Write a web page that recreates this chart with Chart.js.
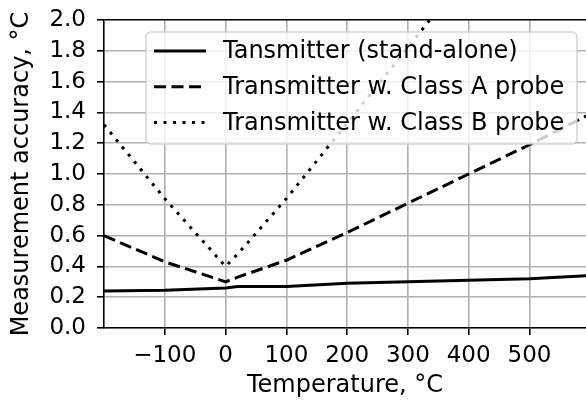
<!DOCTYPE html>
<html lang="en">
<head>
    <meta charset="UTF-8">
    <title>Measurement accuracy</title>
    <style>
        body {
            margin: 0;
            padding: 0;
            background-color: white;
        }
        canvas {
            display: block;
        }
    </style>
</head>
<body>
    <canvas id="chart1" width="586" height="401"></canvas>

    <script src="https://cdn.jsdelivr.net/npm/chart.js"></script>
    <script>
        // data
        var temps = [-200, -100, 0, 20, 100, 200, 300, 400, 500, 600];
        var standAlone = [0.24, 0.245, 0.26, 0.27, 0.27, 0.29, 0.30, 0.31, 0.32, 0.34];
        var classA = [0.60, 0.43, 0.30, 0.33, 0.44, 0.62, 0.81, 1.00, 1.19, 1.39];
        var classB = [1.32, 0.84, 0.40, 0.48, 0.84, 1.33, 1.82, 2.32, 2.82, 3.32];
        var xTicks = [-100, 0, 100, 200, 300, 400, 500];
        var yTicks = [0, 0.2, 0.4, 0.6, 0.8, 1.0, 1.2, 1.4, 1.6, 1.8, 2.0];
        var seriesNames = ['Tansmitter (stand-alone)', 'Transmitter w. Class A probe', 'Transmitter w. Class B probe'];

        function pts(ys) {
            return temps.map(function (t, i) { return { x: t, y: ys[i] }; });
        }

        Chart.defaults.font.family = "'DejaVu Sans', sans-serif";
        Chart.defaults.font.size = 23;
        Chart.defaults.color = '#000';

        // matplotlib style legend box inside the plot
        var boxLegend = {
            id: 'boxLegend',
            afterDatasetsDraw: function (chart) {
                var c = chart.ctx;
                c.save();
                c.beginPath();
                c.roundRect(146, 32, 431, 112, 5);
                c.fillStyle = 'rgba(255,255,255,0.8)';
                c.fill();
                c.strokeStyle = 'rgba(204,204,204,0.8)';
                c.lineWidth = 1.6;
                c.stroke();
                chart.data.datasets.forEach(function (ds, i) {
                    var y = 51 + i * 35.7;
                    c.beginPath();
                    c.setLineDash(ds.borderDash || []);
                    c.lineWidth = ds.borderWidth;
                    c.strokeStyle = ds.borderColor;
                    c.moveTo(154, y);
                    c.lineTo(206, y);
                    c.stroke();
                    c.setLineDash([]);
                    c.fillStyle = '#000';
                    c.font = "24px 'DejaVu Sans', sans-serif";
                    c.textBaseline = 'middle';
                    c.fillText(ds.label, 223, y + 1);
                });
                c.restore();
            }
        };

        var ctx1 = document.getElementById('chart1').getContext('2d');
        var chart1 = new Chart(ctx1, {
            type: 'line',
            data: {
                datasets: [{
                    label: seriesNames[0],
                    data: pts(standAlone),
                    borderColor: '#000',
                    borderWidth: 3,
                    pointRadius: 0
                }, {
                    label: seriesNames[1],
                    data: pts(classA),
                    borderColor: '#000',
                    borderWidth: 3,
                    borderDash: [12, 5.5],
                    pointRadius: 0
                }, {
                    label: seriesNames[2],
                    data: pts(classB),
                    borderColor: '#000',
                    borderWidth: 3,
                    borderDash: [3, 6.5],
                    pointRadius: 0
                }]
            },
            options: {
                responsive: false,
                animation: false,
                layout: { padding: { top: 20, right: 0, left: 0, bottom: 0 } },
                plugins: {
                    legend: { display: false },
                    tooltip: { enabled: false }
                },
                scales: {
                    x: {
                        type: 'linear',
                        min: -200,
                        max: 593,
                        afterBuildTicks: function (scale) {
                            scale.ticks = xTicks.map(function (v) { return { value: v }; });
                        },
                        afterFit: function (scale) {
                            scale.height = 73;
                            scale.paddingLeft = 0;
                            scale.paddingRight = 0;
                        },
                        ticks: {
                            padding: 7,
                            maxRotation: 0,
                            autoSkip: false,
                            callback: function (v) { return v < 0 ? '\u2212' + Math.abs(v) : v; }
                        },
                        grid: {
                            color: '#b0b0b0',
                            lineWidth: 1.6,
                            tickColor: '#000',
                            tickLength: 7,
                            tickWidth: 1.6
                        },
                        border: { color: '#000', width: 1.6 },
                        title: {
                            display: true,
                            text: 'Temperature, \u00b0C',
                            font: { size: 24 },
                            padding: { top: 0, bottom: 1 }
                        }
                    },
                    y: {
                        min: 0,
                        max: 2,
                        afterBuildTicks: function (scale) {
                            scale.ticks = yTicks.map(function (v) { return { value: v }; });
                        },
                        afterFit: function (scale) {
                            scale.width = 104;
                            scale.paddingTop = 0;
                            scale.paddingBottom = 0;
                        },
                        ticks: {
                            padding: 11,
                            autoSkip: false,
                            callback: function (v) { return v.toFixed(1); }
                        },
                        grid: {
                            color: function (c) { return c.tick && c.tick.value === 2 ? '#000' : '#b0b0b0'; },
                            lineWidth: 1.6,
                            tickColor: '#000',
                            tickLength: 7,
                            tickWidth: 1.6
                        },
                        border: { color: '#000', width: 1.6 },
                        title: {
                            display: true,
                            text: 'Measurement accuracy, \u00b0C',
                            font: { size: 24 },
                            padding: { top: 7, bottom: 0 }
                        }
                    }
                }
            },
            plugins: [boxLegend]
        });
    </script>
</body>
</html>
